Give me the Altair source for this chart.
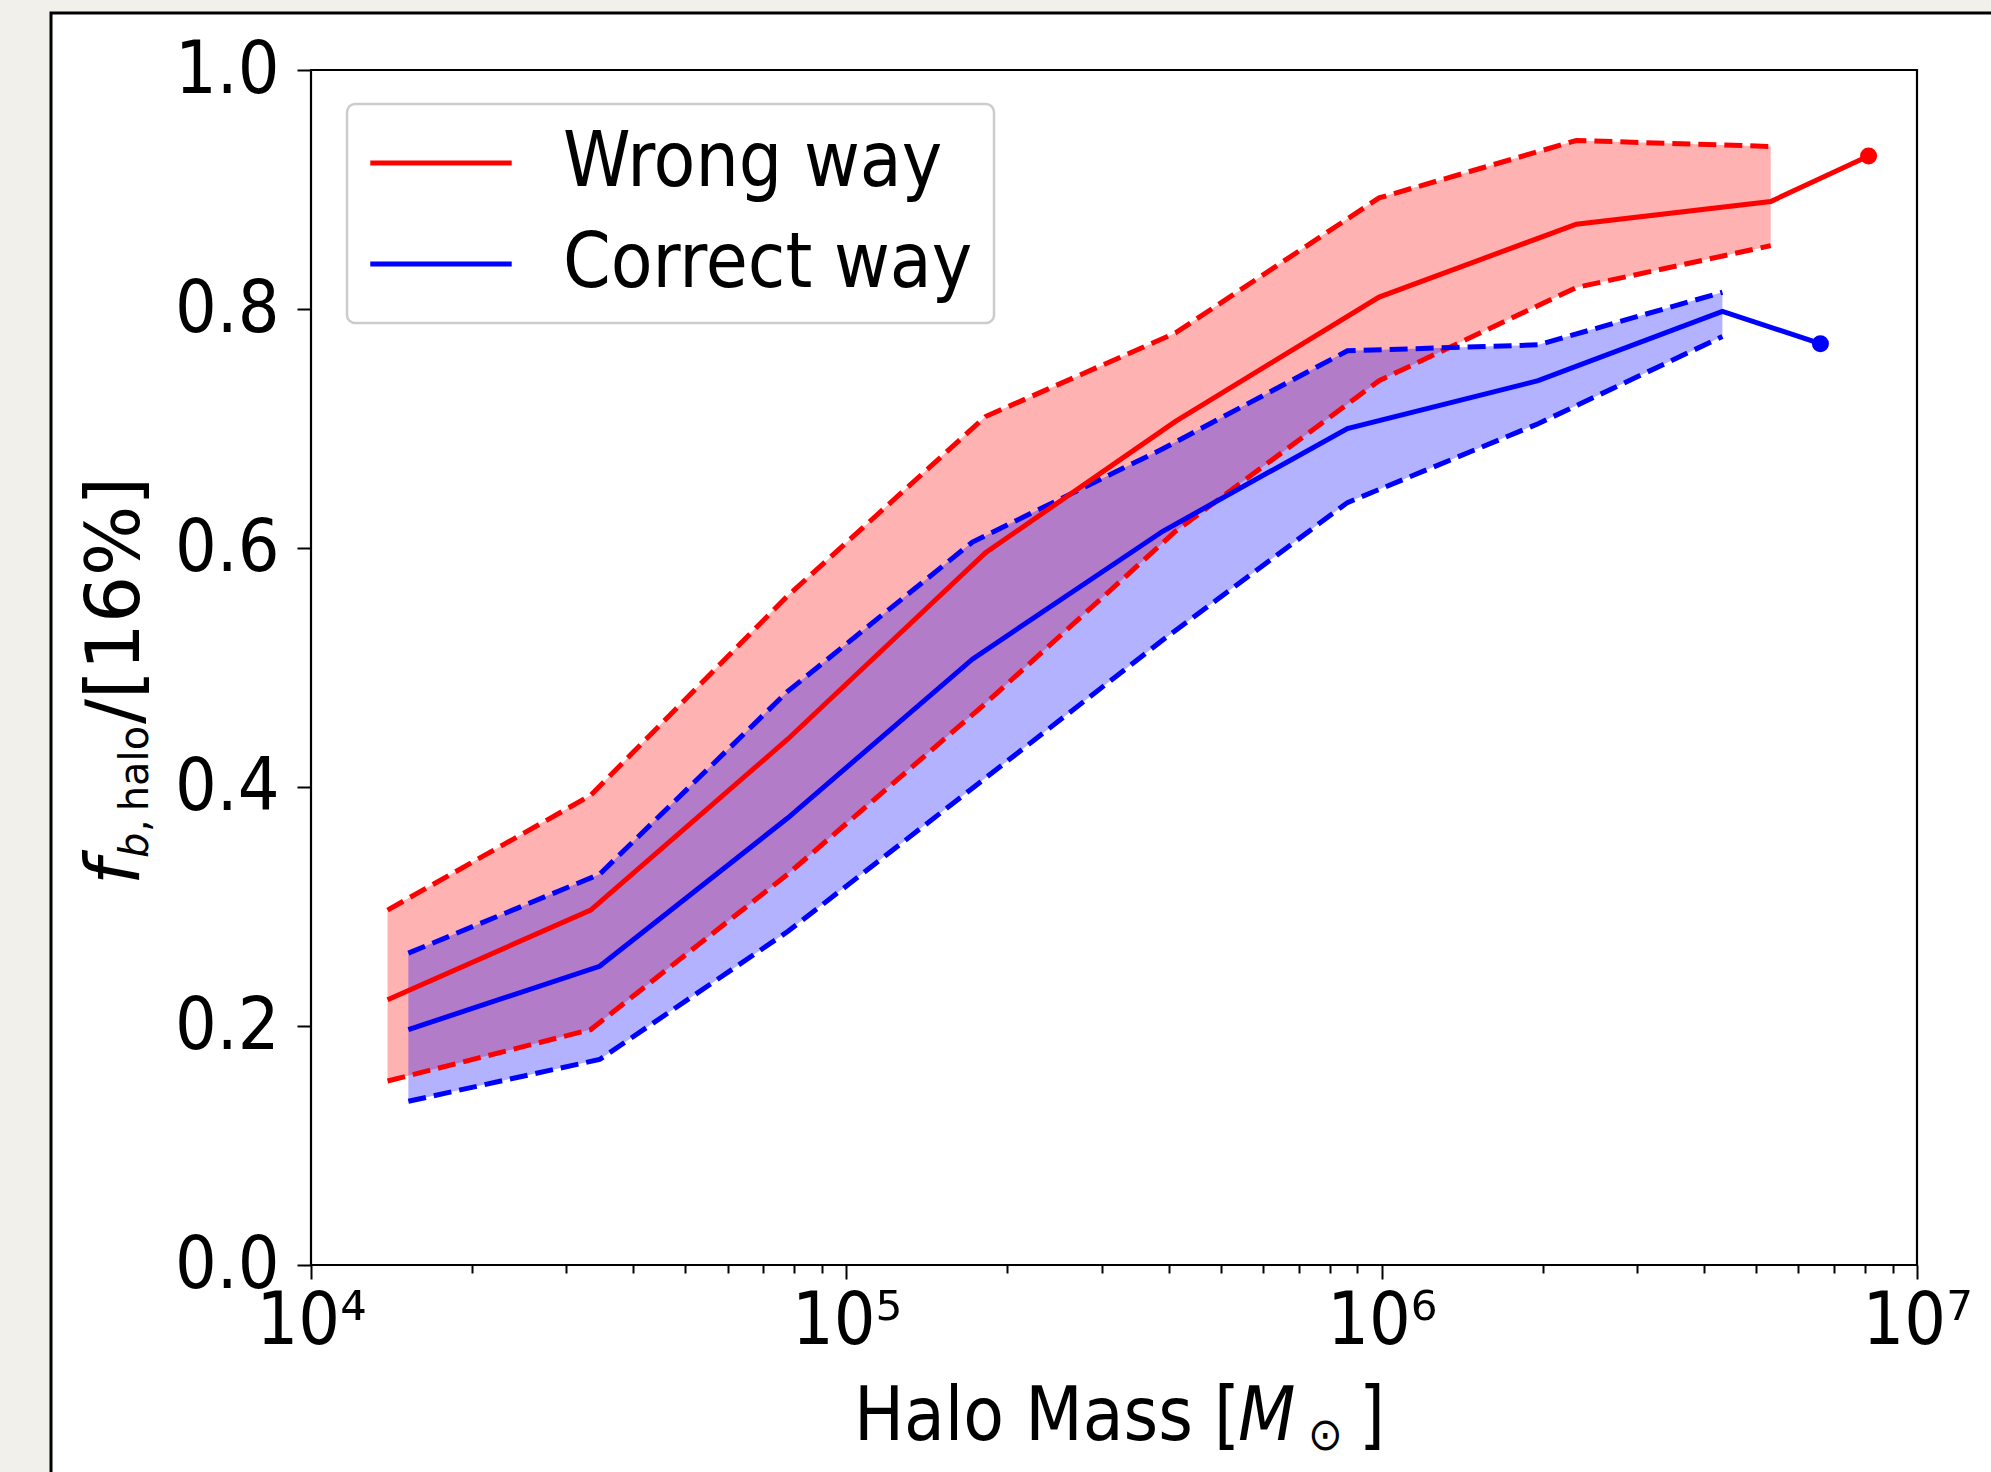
import altair as alt
import pandas as pd

FONT = "DejaVu Sans Condensed, DejaVu Sans"
FONT_R = "DejaVu Sans"

# ---------------- data ----------------
series_names = ["Wrong way", "Correct way"]
series_colors = ["#ff0000", "#0000ff"]

# Wrong way (red)
red_mass = [1.39e4, 3.33e4, 7.77e4, 1.82e5, 4.12e5, 9.89e5, 2.31e6, 5.33e6]
red_med = [0.222, 0.297, 0.440, 0.596, 0.706, 0.810, 0.871, 0.890]
red_hi = [0.297, 0.393, 0.560, 0.710, 0.780, 0.893, 0.941, 0.936]
red_lo = [0.154, 0.197, 0.327, 0.470, 0.614, 0.740, 0.818, 0.853]
red_end_mass = [8.12e6]
red_end_val = [0.928]

# Correct way (blue)
blue_mass = [1.52e4, 3.46e4, 7.77e4, 1.72e5, 3.90e5, 8.63e5, 1.96e6, 4.33e6]
blue_med = [0.197, 0.250, 0.374, 0.507, 0.614, 0.700, 0.740, 0.798]
blue_hi = [0.261, 0.327, 0.480, 0.605, 0.683, 0.765, 0.770, 0.814]
blue_lo = [0.137, 0.172, 0.279, 0.399, 0.523, 0.638, 0.704, 0.777]
blue_end_mass = [6.60e6]
blue_end_val = [0.771]

x_limits = [1e4, 1e7]
y_limits = [0.0, 1.0]
x_major = [1e4, 1e5, 1e6, 1e7]
x_minor = [m * 10 ** e for e in (4, 5, 6) for m in (2, 3, 4, 5, 6, 7, 8, 9)]
y_ticks = [0.0, 0.2, 0.4, 0.6, 0.8, 1.0]

# ---------------- tables ----------------
band_red = pd.DataFrame({"mass": red_mass, "lo": red_lo, "hi": red_hi})
band_blue = pd.DataFrame({"mass": blue_mass, "lo": blue_lo, "hi": blue_hi})

def bounds(mass, lo, hi):
    return pd.DataFrame({
        "mass": list(mass) * 2,
        "val": list(lo) + list(hi),
        "bound": ["lo"] * len(lo) + ["hi"] * len(hi),
    })

dash_red = bounds(red_mass, red_lo, red_hi)
dash_blue = bounds(blue_mass, blue_lo, blue_hi)

med = pd.DataFrame({
    "mass": red_mass + red_end_mass + blue_mass + blue_end_mass,
    "val": red_med + red_end_val + blue_med + blue_end_val,
    "series": [series_names[0]] * (len(red_mass) + 1) + [series_names[1]] * (len(blue_mass) + 1),
})
end_red = pd.DataFrame({"mass": red_end_mass, "val": red_end_val})
end_blue = pd.DataFrame({"mass": blue_end_mass, "val": blue_end_val})
frame = pd.DataFrame({"x0": [x_limits[0]], "x1": [x_limits[1]], "y0": [y_limits[0]], "y1": [y_limits[1]]})

# ---------------- scales / axes ----------------
W, H = 1606, 1195
is_major = "abs(log(datum.value)/LN10 - round(log(datum.value)/LN10)) < 0.001"
expo = "round(log(datum.value)/LN10)"
label_expr = (
    f"{is_major} ? '10' + ({expo}==4 ? '⁴' : {expo}==5 ? '⁵' : {expo}==6 ? '⁶' : '⁷') : ''"
)

x_scale = alt.Scale(type="log", domain=x_limits, nice=False)
y_scale = alt.Scale(domain=y_limits, nice=False, zero=False)

x_axis = alt.Axis(
    values=x_major + x_minor, labelExpr=label_expr, title=None, domain=False, grid=False,
    tickSize={"condition": {"test": is_major, "value": 14}, "value": 8},
    tickWidth=2, tickColor="black", labelFont=FONT, labelFontSize=73, labelColor="black",
    labelPadding=6, labelFlush=False, labelOverlap=False, zindex=1,
)
y_axis = alt.Axis(
    values=y_ticks, format=".1f", title=None, domain=False, grid=False, tickSize=14,
    tickWidth=2, tickColor="black", labelFont=FONT, labelFontSize=73, labelColor="black",
    labelPadding=18, labelFlush=False, labelOverlap=False, zindex=1,
)

def X(field="mass"):
    return alt.X(f"{field}:Q", scale=x_scale, axis=x_axis)

def Y(field="val"):
    return alt.Y(f"{field}:Q", scale=y_scale, axis=y_axis)

one = alt.Data(values=[{"k": 1}])

# white panel with black border (decoration)
panel = alt.Chart(one).mark_rect(fill="white", stroke="black", strokeWidth=3).encode(
    x=alt.value(51 - 311), x2=alt.value(1991 - 311 + 20),
    y=alt.value(13 - 70), y2=alt.value(1472 - 70 + 20),
)

fill_red = alt.Chart(band_red).mark_area(color="#ff0000", opacity=0.3).encode(
    x=X(), y=Y("lo"), y2="hi:Q")
fill_blue = alt.Chart(band_blue).mark_area(color="#0000ff", opacity=0.3).encode(
    x=X(), y=Y("lo"), y2="hi:Q")

LW = 5
dash_kw = dict(strokeDash=[18, 8], strokeWidth=LW)
dashes_red = alt.Chart(dash_red).mark_line(color="#ff0000", **dash_kw).encode(
    x=X(), y=Y(), detail="bound:N")
dashes_blue = alt.Chart(dash_blue).mark_line(color="#0000ff", **dash_kw).encode(
    x=X(), y=Y(), detail="bound:N")

legend = alt.Legend(
    title=None, orient="none", legendX=36, legendY=34, symbolType="M-2,0H2",
    symbolSize=5000, symbolStrokeWidth=LW, symbolOffset=35, labelFont=FONT,
    labelFontSize=76, labelColor="black", labelOffset=84, labelLimit=0,
    rowPadding=25, padding=21,
    fillColor="white", strokeColor="#cccccc", cornerRadius=8, zindex=2,
)
medians = alt.Chart(med).mark_line(strokeWidth=LW).encode(
    x=X(), y=Y(),
    color=alt.Color("series:N", scale=alt.Scale(domain=series_names, range=series_colors),
                    legend=legend, sort=series_names),
)
dot_red = alt.Chart(end_red).mark_circle(size=290, opacity=1, color="#ff0000").encode(x=X(), y=Y())
dot_blue = alt.Chart(end_blue).mark_circle(size=290, opacity=1, color="#0000ff").encode(x=X(), y=Y())

box = alt.Chart(frame).mark_rect(fill=None, stroke="black", strokeWidth=2.2).encode(
    x=X("x0"), x2="x1:Q", y=Y("y0"), y2="y1:Q")

def txt(text, x, y, size=74, style="normal", angle=0, font=FONT):
    return alt.Chart(one).mark_text(
        text=text, font=font, fontSize=size, fontStyle=style, align="left",
        baseline="alphabetic", angle=angle, color="black",
    ).encode(x=alt.value(x), y=alt.value(y))

titles = [
    # x title: Halo Mass [M_sun]
    txt("Halo Mass [", 543, 1370),
    txt("M", 927, 1370, style="italic"),
    txt("⊙", 997, 1380, size=46),
    txt("]", 1048, 1370),
    # y title: f_{b, halo}/[16%]
    txt("f", -172, 815, size=74, style="italic", angle=270, font=FONT_R),
    txt("b", -163, 788, size=40, style="italic", angle=270, font=FONT_R),
    txt(",\u2009halo", -163, 762, size=40, angle=270, font=FONT_R),
    txt("/[16%]", -172, 654, size=74, angle=270, font=FONT_R),
]

chart = alt.layer(
    panel, fill_red, fill_blue, dashes_red, dashes_blue, medians, dot_red, dot_blue, box, *titles
).properties(
    width=W, height=H,
    padding={"left": 311, "top": 70, "right": 74, "bottom": 207},
    autosize=alt.AutoSizeParams(type="none"),
    background="#f1f0ea",
).configure_view(stroke=None).configure_legend(strokeWidth=2.5)

chart.save("out.html", embed_options={"renderer": "svg", "actions": False})
